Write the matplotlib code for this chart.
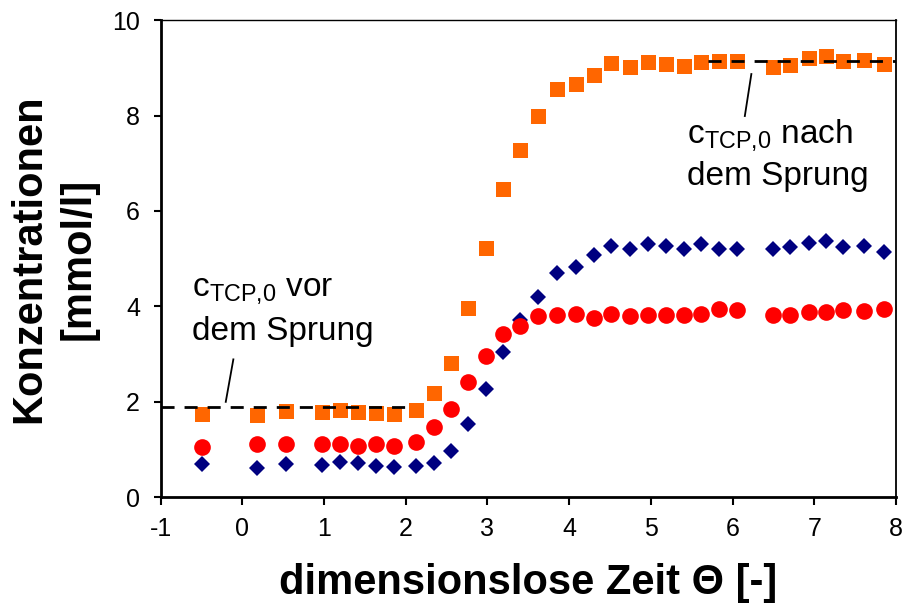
import matplotlib
matplotlib.use("Agg")
import matplotlib.pyplot as plt

plt.rcParams['font.family'] = ['Liberation Sans', 'DejaVu Sans']
plt.rcParams['mathtext.fontset'] = 'custom'
plt.rcParams['mathtext.rm'] = 'Liberation Sans'
plt.rcParams['axes.unicode_minus'] = False

# dimensionslose Zeit
theta = [-0.50, 0.18, 0.53, 0.98, 1.20, 1.41, 1.64, 1.86, 2.12, 2.34, 2.55, 2.76,
         2.98, 3.19, 3.40, 3.62, 3.85, 4.08, 4.30, 4.51, 4.74, 4.97, 5.18, 5.40,
         5.61, 5.83, 6.05, 6.49, 6.70, 6.93, 7.14, 7.35, 7.61, 7.85]
# Konzentrationen [mmol/l]
c_orange = [1.74, 1.72, 1.81, 1.78, 1.82, 1.79, 1.77, 1.74, 1.83, 2.18, 2.81, 3.96,
            5.22, 6.47, 7.28, 7.99, 8.55, 8.67, 8.85, 9.11, 9.01, 9.12, 9.08, 9.04,
            9.13, 9.14, 9.14, 9.02, 9.07, 9.20, 9.25, 9.15, 9.16, 9.09]
c_red = [1.06, 1.12, 1.12, 1.12, 1.12, 1.08, 1.12, 1.08, 1.16, 1.47, 1.84, 2.42,
         2.96, 3.42, 3.59, 3.80, 3.82, 3.85, 3.76, 3.85, 3.80, 3.81, 3.82, 3.83,
         3.84, 3.94, 3.92, 3.82, 3.83, 3.88, 3.88, 3.92, 3.91, 3.95]
c_blue = [0.70, 0.61, 0.70, 0.68, 0.73, 0.72, 0.66, 0.64, 0.66, 0.71, 0.98, 1.54,
          2.27, 3.05, 3.71, 4.20, 4.71, 4.83, 5.08, 5.27, 5.21, 5.30, 5.27, 5.20,
          5.30, 5.20, 5.21, 5.20, 5.24, 5.32, 5.37, 5.25, 5.27, 5.14]

# c_TCP,0 vor / nach dem Sprung
c0_vor = 1.885
c0_nach = 9.14

fig = plt.figure(figsize=(9.05, 6.1), dpi=100)
ax = fig.add_axes([0.1776, 0.1848, 0.8124, 0.7822])

ax.plot(theta, c_blue, 'D', color='#000080', markersize=8.6, markeredgewidth=0, zorder=2)
ax.plot(theta, c_orange, 's', color='#FF6600', markersize=10.8, markeredgewidth=0, zorder=3)
ax.plot(theta, c_red, 'o', color='#FF0000', markersize=12, markeredgewidth=0, zorder=4)

ax.plot([-1, 2.0], [c0_vor, c0_vor], color='black', lw=2, dashes=(4.7, 3.6), zorder=5)
ax.plot([5.7, 8], [c0_nach, c0_nach], color='black', lw=2, dashes=(4.7, 3.6), zorder=5)

# Hinweislinien
ax.plot([-0.204, -0.111], [2.0, 2.89], color='black', lw=1.3, zorder=5)
ax.plot([6.15, 6.23], [7.99, 8.87], color='black', lw=1.3, zorder=5)

ax.text(-0.62, 4.22, r"c$_\mathregular{TCP{,}0}$ vor", fontsize=24, va='baseline')
ax.text(-0.62, 3.30, "dem Sprung", fontsize=24, va='baseline')
ax.text(5.44, 7.42, r"c$_\mathregular{TCP{,}0}$ nach", fontsize=24, va='baseline')
ax.text(5.44, 6.54, "dem Sprung", fontsize=24, va='baseline')

ax.set_xlim(-1, 8)
ax.set_ylim(0, 10)
ax.set_xticks(range(-1, 9))
ax.set_yticks(range(0, 11, 2))
ax.tick_params(axis='both', labelsize=18, width=1.5, direction='out')
ax.tick_params(axis='x', length=6, pad=8)
ax.tick_params(axis='y', length=5, pad=10)

ax.spines['left'].set_linewidth(2)
ax.spines['bottom'].set_linewidth(2)
ax.spines['top'].set_linewidth(1)
ax.spines['right'].set_linewidth(1.3)

ax.set_xlabel("dimensionslose Zeit Θ [-]", fontsize=30, fontweight='bold', labelpad=16)
ax.set_ylabel("Konzentrationen\n[mmol/l]", fontsize=30, fontweight='bold',
              labelpad=10, linespacing=1.28)

fig.savefig("out.png", dpi=100)
